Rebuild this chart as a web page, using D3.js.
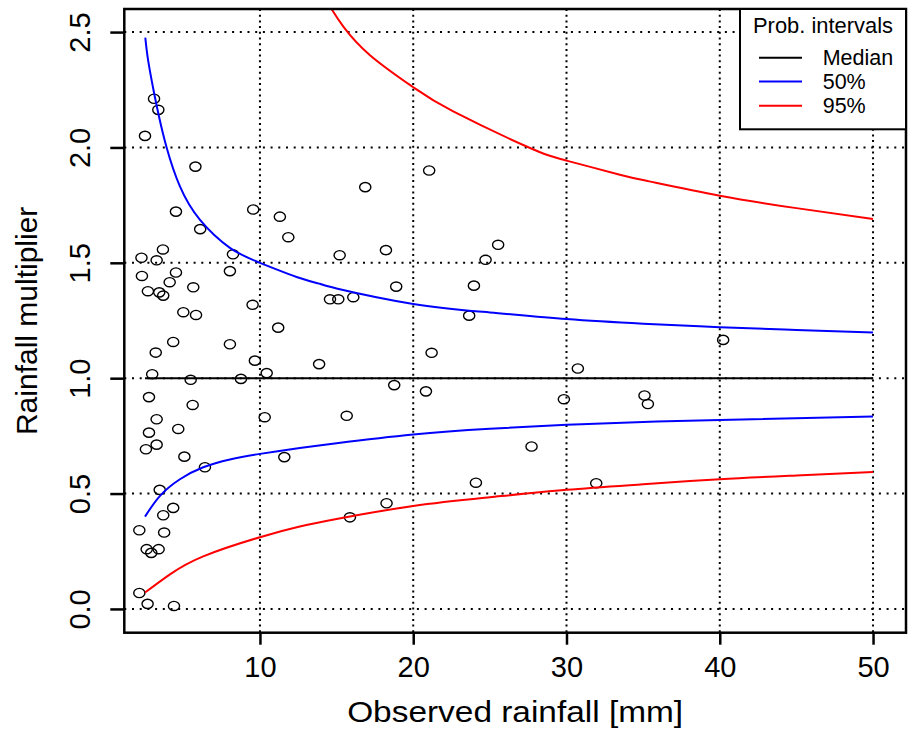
<!DOCTYPE html>
<html>
<head>
<meta charset="utf-8">
<script src="https://cdn.jsdelivr.net/npm/d3@7"></script>
<style>
body { margin: 0; background: #fff; }
text { font-family: "Liberation Sans", Arial, sans-serif; fill: #000; }
</style>
</head>
<body>
<script>
// observed rainfall [mm] and rainfall multiplier of each point
const rainfall = [3.09,3.37,2.50,5.79,4.52,9.56,11.30,11.85,6.10,3.67,
  2.27,3.26,8.24,2.30,4.52,4.11,2.69,3.43,3.69,5.65,
  8.04,9.52,5.00,5.83,11.19,4.34,8.04,3.20,9.67,2.97,
  10.44,5.48,8.76,2.76,5.61,10.31,3.26,2.76,4.67,3.26,
  2.56,5.07,6.41,11.59,3.46,4.34,3.69,2.13,3.75,2.61,
  2.91,3.39,2.13,2.67,4.39,21.04,16.87,15.20,18.22,25.54,
  24.72,18.89,23.96,14.57,15.11,16.09,23.65,21.20,13.86,30.74,
  40.22,15.66,18.76,20.83,29.83,35.09,35.31,27.72,24.09,31.94,
  18.26,15.87];
const multiplier = [2.211,2.163,2.050,1.917,1.722,1.731,1.700,1.611,1.646,1.558,
  1.522,1.511,1.537,1.443,1.458,1.416,1.377,1.372,1.358,1.394,
  1.464,1.318,1.286,1.274,1.219,1.157,1.147,1.111,1.076,1.017,
  1.022,0.993,0.997,0.918,0.884,0.831,0.822,0.764,0.780,0.712,
  0.692,0.660,0.614,0.658,0.516,0.438,0.406,0.341,0.331,0.259,
  0.243,0.259,0.069,0.022,0.013,1.900,1.828,1.533,1.555,1.578,
  1.513,1.397,1.401,1.342,1.342,1.351,1.271,1.110,1.061,1.042,
  1.166,0.837,0.970,0.943,0.909,0.925,0.888,0.704,0.547,0.545,
  0.458,0.397];

// probability interval curves [rainfall, multiplier]
const median = [[2.5,1],[50,1]];
const upper50 = [[2.52,2.476],[2.71,2.375],[3.09,2.237],[3.41,2.135],[3.91,2.0],[4.78,1.831],
  [6.09,1.686],[8.04,1.565],[10,1.50],[12.6,1.434],[13.91,1.409],[15,1.389],[20,1.322],
  [25,1.285],[30,1.256],[35,1.236],[40,1.221],[45,1.209],[50,1.198]];
const lower50 = [[2.5,0.400],[3.48,0.490],[4.78,0.562],[6.3,0.614],[8.04,0.648],[10,0.672],
  [12.6,0.697],[15,0.718],[20,0.756],[25,0.781],[30,0.798],[35,0.810],[40,0.819],[50,0.834]];
const upper95 = [[14.3,2.64],[14.68,2.599],[15.43,2.525],[17.18,2.40],[20,2.261],[22.61,2.156],
  [27.4,2.004],[30,1.943],[33.48,1.882],[35.4,1.853],[40,1.791],[45,1.737],[50,1.69]];
const lower95 = [[2.5,0.071],[4.13,0.150],[6.3,0.228],[10,0.311],[12.6,0.357],[15,0.39],
  [20,0.446],[25,0.484],[30,0.516],[35,0.540],[40,0.562],[45,0.578],[50,0.593]];

const xTicks = [10, 20, 30, 40, 50];
const yTicks = [0, 0.5, 1, 1.5, 2, 2.5];
const legendTitle = "Prob. intervals";
const legendLabels = ["Median", "50%", "95%"];
const legendColors = ["#000000", "#0000ff", "#ff0000"];

const width = 914, height = 734;
const m = {left: 124.3, right: 906, top: 9, bottom: 632.7};

const svg = d3.select("body").append("svg")
  .attr("width", width)
  .attr("height", height);

const x = d3.scaleLinear().domain([1.15, 52.15]).range([m.left, m.right]);
const y = d3.scaleLinear().domain([-0.103, 2.6]).range([m.bottom, m.top]);

svg.append("clipPath").attr("id", "plotclip")
  .append("rect")
  .attr("x", m.left).attr("y", m.top)
  .attr("width", m.right - m.left).attr("height", m.bottom - m.top);

// grid
const grid = svg.append("g");
grid.selectAll(".hg").data(yTicks).enter().append("line")
  .attr("x1", m.left).attr("x2", m.right)
  .attr("y1", d => y(d)).attr("y2", d => y(d))
  .attr("stroke", "#000").attr("stroke-width", 2)
  .attr("stroke-dasharray", "2,5.7");
grid.selectAll(".vg").data(xTicks).enter().append("line")
  .attr("y1", m.top).attr("y2", m.bottom)
  .attr("x1", d => x(d)).attr("x2", d => x(d))
  .attr("stroke", "#000").attr("stroke-width", 2)
  .attr("stroke-dasharray", "2,3.7");

// points
const plot = svg.append("g").attr("clip-path", "url(#plotclip)");
plot.selectAll("ellipse").data(rainfall).enter().append("ellipse")
  .attr("cx", d => x(d))
  .attr("cy", (d, i) => y(multiplier[i]))
  .attr("rx", 5.6).attr("ry", 4.6)
  .attr("fill", "none").attr("stroke", "#000").attr("stroke-width", 1.4);

// curves
const line = d3.line().x(d => x(d[0])).y(d => y(d[1])).curve(d3.curveNatural);
const curves = [
  {pts: median, color: legendColors[0]},
  {pts: upper50, color: legendColors[1]},
  {pts: lower50, color: legendColors[1]},
  {pts: upper95, color: legendColors[2]},
  {pts: lower95, color: legendColors[2]}
];
plot.selectAll("path.curve").data(curves).enter().append("path")
  .attr("class", "curve")
  .attr("d", d => line(d.pts))
  .attr("fill", "none")
  .attr("stroke", d => d.color)
  .attr("stroke-width", 2);

// axes
const gy = svg.append("g").attr("transform", `translate(${m.left},0)`)
  .call(d3.axisLeft(y).tickValues(yTicks).tickSize(14).tickFormat(d3.format(".1f")));
gy.select(".domain").remove();
gy.selectAll(".tick line").attr("stroke", "#000").attr("stroke-width", 2.5);
gy.selectAll(".tick text")
  .attr("transform", "rotate(-90)")
  .attr("x", 0).attr("y", -34.3).attr("dy", null)
  .attr("text-anchor", "middle")
  .style("font-size", "29px")
  .style("font-family", "'Liberation Sans', Arial, sans-serif");

const gx = svg.append("g").attr("transform", `translate(0,${m.bottom})`)
  .call(d3.axisBottom(x).tickValues(xTicks).tickSize(12));
gx.select(".domain").remove();
gx.selectAll(".tick line").attr("stroke", "#000").attr("stroke-width", 2.5);
gx.selectAll(".tick text")
  .attr("y", 44).attr("dy", null)
  .style("font-size", "29px")
  .style("font-family", "'Liberation Sans', Arial, sans-serif");

// plot frame
svg.append("rect")
  .attr("x", m.left).attr("y", m.top)
  .attr("width", m.right - m.left).attr("height", m.bottom - m.top)
  .attr("fill", "none").attr("stroke", "#000").attr("stroke-width", 2.5);

// axis titles
svg.append("text")
  .attr("x", (m.left + m.right) / 2).attr("y", 722)
  .attr("text-anchor", "middle")
  .attr("textLength", 336).attr("lengthAdjust", "spacingAndGlyphs")
  .style("font-size", "30px")
  .text("Observed rainfall [mm]");
svg.append("text")
  .attr("transform", `translate(36.7,${(m.top + m.bottom) / 2}) rotate(-90)`)
  .attr("text-anchor", "middle")
  .style("font-size", "30px")
  .text("Rainfall multiplier");

// legend
const lg = svg.append("g");
lg.append("rect")
  .attr("x", 740).attr("y", m.top)
  .attr("width", m.right - 740).attr("height", 120.3)
  .attr("fill", "#fff").attr("stroke", "#000").attr("stroke-width", 2);
lg.append("text")
  .attr("x", 823).attr("y", 33)
  .attr("text-anchor", "middle")
  .attr("textLength", 140).attr("lengthAdjust", "spacingAndGlyphs")
  .style("font-size", "21.5px")
  .text(legendTitle);
const rowY = [57.7, 81.5, 105.8];
legendLabels.forEach((lab, i) => {
  lg.append("line")
    .attr("x1", 759).attr("x2", 802)
    .attr("y1", rowY[i]).attr("y2", rowY[i])
    .attr("stroke", legendColors[i]).attr("stroke-width", 2);
  lg.append("text")
    .attr("x", 822.7).attr("y", rowY[i]).attr("dy", "0.35em")
    .style("font-size", "21.5px")
    .text(lab);
});
</script>
</body>
</html>
